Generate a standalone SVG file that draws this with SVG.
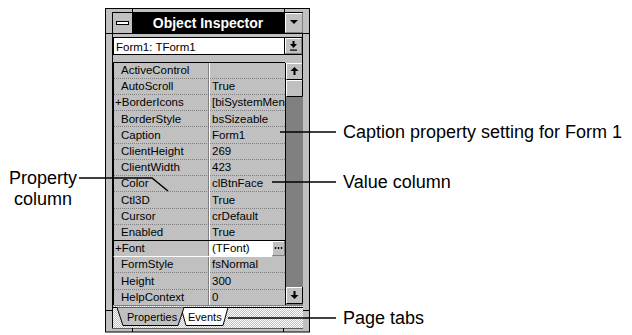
<svg xmlns="http://www.w3.org/2000/svg" width="632" height="335" viewBox="0 0 632 335">
<style>
.t{font-family:"Liberation Sans",Arial,sans-serif;font-size:11.5px;fill:#000}
.tab{font-family:"Liberation Sans",Arial,sans-serif;font-size:11px;fill:#000}
.ann{font-family:"Liberation Sans",Arial,sans-serif;font-size:18px;fill:#000}
.sep{stroke:#808080;stroke-width:1;stroke-dasharray:1 1}
.conn{stroke:#000;stroke-width:1.5;fill:none}
.ln{stroke:#000;stroke-width:1;fill:none}
</style>
<defs>
<pattern id="dith" width="2" height="2" patternUnits="userSpaceOnUse">
<rect width="2" height="2" fill="#c0c0c0"/>
<rect width="1" height="1" fill="#fff"/>
<rect x="1" y="1" width="1" height="1" fill="#fff"/>
</pattern>
<clipPath id="valclip"><rect x="209" y="62" width="76" height="243"/></clipPath>
</defs>

<g id="window">
<!-- frame -->
<rect x="105.5" y="8.5" width="204" height="323.5" fill="#c0c0c0" stroke="#000"/>
<rect x="112.5" y="12.5" width="190" height="315.5" fill="#c0c0c0" stroke="#000"/>
<path class="ln" d="M132.5 8.5V12.5M284.5 8.5V12.5M105.5 33.5H112.5M302.5 33.5H309.5M105.5 310.5H112.5M302.5 310.5H309.5M132.5 328V332M283.5 328V332"/>
<!-- title bar -->
<rect x="133" y="13" width="151" height="20" fill="#000"/>
<text x="208" y="28" text-anchor="middle" font-family="Liberation Sans,Arial,sans-serif" font-size="14" font-weight="bold" fill="#fff">Object Inspector</text>
<rect x="113" y="13" width="19" height="20" fill="#c0c0c0"/>
<line x1="132.5" y1="12.5" x2="132.5" y2="33.5" stroke="#000"/>
<rect x="116.5" y="21.5" width="12" height="3" fill="#fff" stroke="#000"/>
<rect x="285" y="13" width="17" height="20" fill="#c0c0c0"/>
<line x1="284.5" y1="12.5" x2="284.5" y2="33.5" stroke="#000"/>
<path d="M285.5 32V13.5H302" stroke="#fff" fill="none"/>
<path d="M285.5 32.5H302.5V13" stroke="#808080" fill="none"/>
<path d="M290 20H298L294 24Z" fill="#000"/>
<line x1="112.5" y1="33.5" x2="302.5" y2="33.5" stroke="#000"/>
</g>

<g id="combo">
<rect x="113.5" y="37.5" width="189" height="17" fill="#fff" stroke="#000"/>
<text x="116" y="50.5" class="t">Form1: TForm1</text>
<rect x="285" y="38" width="17" height="16" fill="#c0c0c0"/>
<line x1="284.5" y1="38" x2="284.5" y2="54" stroke="#000"/>
<path d="M285.5 53V38.5H301" stroke="#fff" fill="none"/>
<path d="M285.5 53.5H301.5V38" stroke="#808080" fill="none"/>
<path d="M290 44H297L293.5 48Z" fill="#000"/>
<rect x="292.5" y="41" width="2" height="3.5" fill="#000"/>
<rect x="290" y="49.5" width="7" height="1.2" fill="#000"/>
</g>

<g id="grid">
<rect x="113" y="62" width="172" height="243" fill="#c0c0c0"/>
<path d="M113.5 305V62.5H285" stroke="#000" fill="none"/>
<line x1="208.5" y1="63" x2="208.5" y2="305" stroke="#808080"/>
<line x1="209.5" y1="63" x2="209.5" y2="305" stroke="#fff"/>
<g>
<line class="sep" x1="114" y1="78.5" x2="285" y2="78.5"/>
<line class="sep" x1="114" y1="94.5" x2="285" y2="94.5"/>
<line class="sep" x1="114" y1="110.5" x2="285" y2="110.5"/>
<line class="sep" x1="114" y1="126.5" x2="285" y2="126.5"/>
<line class="sep" x1="114" y1="143.5" x2="285" y2="143.5"/>
<line class="sep" x1="114" y1="159.5" x2="285" y2="159.5"/>
<line class="sep" x1="114" y1="175.5" x2="285" y2="175.5"/>
<line class="sep" x1="114" y1="191.5" x2="285" y2="191.5"/>
<line class="sep" x1="114" y1="208.5" x2="285" y2="208.5"/>
<line class="sep" x1="114" y1="224.5" x2="285" y2="224.5"/>
<line class="sep" x1="114" y1="272.5" x2="285" y2="272.5"/>
<line class="sep" x1="114" y1="289.5" x2="285" y2="289.5"/>
</g>
<!-- selected +Font row -->
<rect x="210" y="241" width="62" height="15" fill="#fff"/>
<rect x="272" y="241" width="13" height="15" fill="#c0c0c0"/>
<path d="M272.5 255V241.5H285" stroke="#fff" fill="none"/>
<path d="M272.5 255.5H284.5V241" stroke="#808080" fill="none"/>
<circle cx="275.5" cy="248" r="0.9" fill="#000"/>
<circle cx="278.5" cy="248" r="0.9" fill="#000"/>
<circle cx="281.5" cy="248" r="0.9" fill="#000"/>
<path d="M113.5 256V240.5H285" stroke="#000" fill="none"/>
<line x1="113.5" y1="256.5" x2="272" y2="256.5" stroke="#fff"/>

<text class="t" x="121" y="74">ActiveControl</text>
<text class="t" x="121" y="90.2">AutoScroll</text>
<text class="t" x="115" y="106.4">+BorderIcons</text>
<text class="t" x="121" y="122.6">BorderStyle</text>
<text class="t" x="121" y="138.8">Caption</text>
<text class="t" x="121" y="155">ClientHeight</text>
<text class="t" x="121" y="171.2">ClientWidth</text>
<text class="t" x="121" y="187.4">Color</text>
<text class="t" x="121" y="203.6">Ctl3D</text>
<text class="t" x="121" y="219.8">Cursor</text>
<text class="t" x="121" y="236">Enabled</text>
<text class="t" x="115" y="252.2">+Font</text>
<text class="t" x="121" y="268.4">FormStyle</text>
<text class="t" x="121" y="284.6">Height</text>
<text class="t" x="121" y="300.8">HelpContext</text>
<g clip-path="url(#valclip)">
<text class="t" x="212" y="90.2">True</text>
<text class="t" x="212" y="106.4">[biSystemMenu</text>
<text class="t" x="212" y="122.6">bsSizeable</text>
<text class="t" x="212" y="138.8">Form1</text>
<text class="t" x="212" y="155">269</text>
<text class="t" x="212" y="171.2">423</text>
<text class="t" x="212" y="187.4">clBtnFace</text>
<text class="t" x="212" y="203.6">True</text>
<text class="t" x="212" y="219.8">crDefault</text>
<text class="t" x="212" y="236">True</text>
<text class="t" x="212" y="252.2">(TFont)</text>
<text class="t" x="212" y="268.4">fsNormal</text>
<text class="t" x="212" y="284.6">300</text>
<text class="t" x="212" y="300.8">0</text>
</g>
</g>

<g id="scrollbar">
<rect x="285" y="63" width="18" height="242" fill="#808080"/>
<line x1="285.5" y1="63" x2="285.5" y2="305" stroke="#000"/>
<!-- up button -->
<rect x="286" y="63" width="17" height="17" fill="#c0c0c0"/>
<path d="M286.5 79V63.5H302" stroke="#fff" fill="none"/>
<path d="M286.5 79.5H302.5V63" stroke="#000" fill="none"/>
<path d="M290.5 71H298.5L294.5 67Z" fill="#000"/>
<rect x="293.5" y="71" width="2" height="4" fill="#000"/>
<!-- thumb -->
<rect x="286" y="80" width="17" height="17" fill="#c0c0c0"/>
<path d="M286.5 96V80.5H302" stroke="#fff" fill="none"/>
<path d="M286.5 96.5H302.5V80" stroke="#000" fill="none"/>
<!-- down button -->
<rect x="286" y="287" width="17" height="17" fill="#c0c0c0"/>
<path d="M286.5 303V287.5H302" stroke="#fff" fill="none"/>
<path d="M286.5 303.5H302.5V287" stroke="#000" fill="none"/>
<path d="M290.5 295H298.5L294.5 299Z" fill="#000"/>
<rect x="293.5" y="291" width="2" height="4" fill="#000"/>
</g>

<g id="tabs">
<rect x="113" y="305" width="190" height="23" fill="url(#dith)"/>
<line x1="113" y1="305.5" x2="303" y2="305.5" stroke="#808080"/>
<line x1="113" y1="307.5" x2="303" y2="307.5" stroke="#000"/>
<path d="M181 307.5L186 325.5H223L228 307.5Z" fill="#fff" stroke="#000"/>
<path d="M117 307.5L123 325.5H178L184 307.5Z" fill="#c0c0c0"/>
<path d="M117 307.5L123 325.5H178L184 307.5" class="ln"/>
<text class="tab" x="127" y="321">Properties</text>
<text class="tab" x="188" y="321">Events</text>
</g>

<g id="connectors">
<line class="conn" x1="280" y1="132" x2="336" y2="132"/>
<line class="conn" x1="272" y1="182" x2="336" y2="182"/>
<line class="conn" x1="228" y1="318" x2="336" y2="318"/>
<polyline class="conn" points="79,178 152,178 168,191"/>
</g>

<g id="label-caption"><text class="ann" x="343" y="138">Caption property setting for Form 1</text></g>
<g id="label-value"><text class="ann" x="343" y="188">Value column</text></g>
<g id="label-tabs"><text class="ann" x="343" y="324">Page tabs</text></g>
<g id="label-property">
<text class="ann" x="77" y="184" text-anchor="end">Property</text>
<text class="ann" x="43" y="205" text-anchor="middle">column</text>
</g>
</svg>
